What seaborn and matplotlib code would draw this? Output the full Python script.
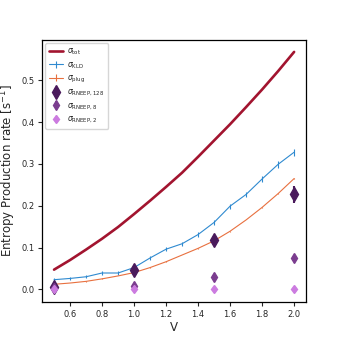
import matplotlib
matplotlib.use("Agg")
import matplotlib.pyplot as plt
import seaborn as sns
import numpy as np
import pandas as pd

V = [0.5, 0.6, 0.7, 0.8, 0.9, 1.0, 1.1, 1.2, 1.3, 1.4, 1.5, 1.6, 1.7, 1.8, 1.9, 2.0]
sigma_tot = [0.047, 0.070, 0.095, 0.121, 0.149, 0.180, 0.212, 0.245, 0.279, 0.317,
             0.356, 0.395, 0.436, 0.478, 0.522, 0.568]
sigma_kld = [0.023, 0.026, 0.030, 0.039, 0.039, 0.052, 0.075, 0.096, 0.109, 0.131,
             0.160, 0.199, 0.227, 0.264, 0.299, 0.328]
sigma_kld_err = [0.004, 0.004, 0.004, 0.004, 0.004, 0.005, 0.005, 0.005, 0.005, 0.006,
                 0.006, 0.006, 0.007, 0.007, 0.008, 0.008]
sigma_plug = [0.012, 0.015, 0.019, 0.025, 0.032, 0.040, 0.052, 0.066, 0.082, 0.098,
              0.116, 0.139, 0.166, 0.196, 0.229, 0.265]
sigma_plug_err = [0.001] * 16

V_rneep = [0.5, 1.0, 1.5, 2.0]
rneep_128 = [0.006, 0.047, 0.119, 0.227]
rneep_128_err = [0.006, 0.008, 0.008, 0.020]
rneep_8 = [0.003, 0.007, 0.029, 0.075]
rneep_8_err = [0.004, 0.005, 0.005, 0.006]
rneep_2 = [0.0, 0.0, 0.0, 0.0]
rneep_2_err = [0.002, 0.002, 0.002, 0.002]

sns.set_style("ticks")
plt.rcParams['font.family'] = ['DejaVu Sans']

fig = plt.figure(figsize=(3.39, 3.39), dpi=100)
ax = fig.add_axes([0.124, 0.109, 0.779, 0.773])

c_tot = "#A2142F"
c_kld = "#2f8ad0"
c_plug = "#e8703f"
c_128 = "#4a1a5c"
c_8 = "#7b3d8f"
c_2 = "#cc7be0"

df_tot = pd.DataFrame({"V": V, "s": sigma_tot})
sns.lineplot(data=df_tot, x="V", y="s", ax=ax, color=c_tot, lw=1.9, label=r"$\sigma_{\rm tot}$")
ax.errorbar(V, sigma_kld, yerr=sigma_kld_err, color=c_kld, lw=0.8, elinewidth=0.8,
            label=r"$\sigma_{\rm KLD}$")
ax.errorbar(V, sigma_plug, yerr=sigma_plug_err, color=c_plug, lw=0.8, elinewidth=0.8,
            label=r"$\sigma_{\rm plug}$")
ax.errorbar(V_rneep, rneep_128, yerr=rneep_128_err, fmt='d', color=c_128, ms=7,
            elinewidth=1.5, label=r"$\sigma_{\rm RNEEP,128}$")
ax.errorbar(V_rneep, rneep_8, yerr=rneep_8_err, fmt='d', color=c_8, ms=5.5,
            elinewidth=1.2, label=r"$\sigma_{\rm RNEEP,8}$")
ax.errorbar(V_rneep, rneep_2, yerr=rneep_2_err, fmt='d', color=c_2, ms=4.5,
            elinewidth=1.0, label=r"$\sigma_{\rm RNEEP,2}$")

ax.set_xticks([0.6, 0.8, 1.0, 1.2, 1.4, 1.6, 1.8, 2.0])
ax.set_yticks([0.0, 0.1, 0.2, 0.3, 0.4, 0.5])
ax.tick_params(labelsize=6, length=3, width=0.8, pad=2.5)
ax.set_xlabel("V", fontsize=8.5, labelpad=2)
ax.set_ylabel(r"Entropy Production rate [s$^{-1}$]", fontsize=8.5, labelpad=2)
for s in ax.spines.values():
    s.set_linewidth(0.9)
    s.set_color("black")
ax.legend(loc="upper left", fontsize=5.5, handlelength=1.8, borderpad=0.5,
          labelspacing=0.35, handletextpad=0.6, borderaxespad=0.4)

fig.savefig("out.png", dpi=100)
